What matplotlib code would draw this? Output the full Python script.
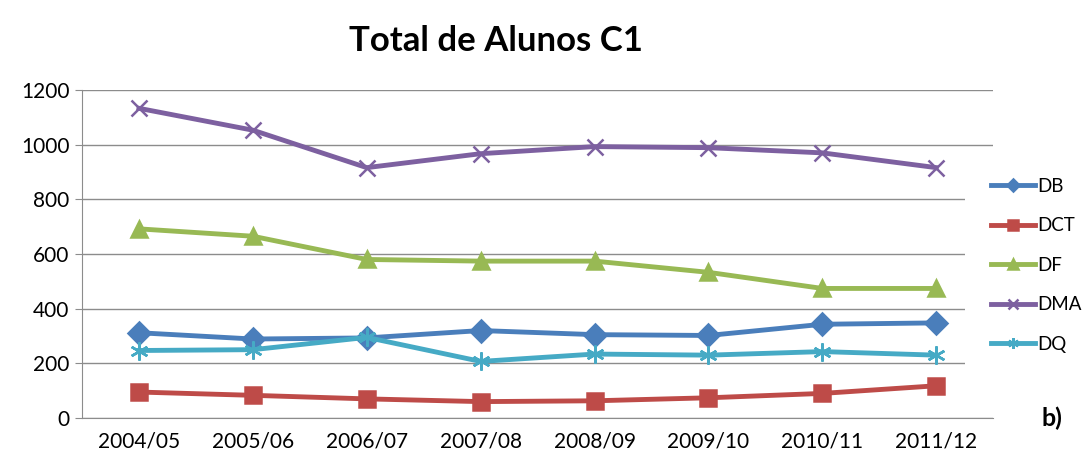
import matplotlib.pyplot as plt

plt.rcParams['font.family'] = ['Lato', 'DejaVu Sans']

years = ["2004/05", "2005/06", "2006/07", "2007/08",
         "2008/09", "2009/10", "2010/11", "2011/12"]

db = [312, 289, 293, 320, 305, 302, 343, 348]
dct = [95, 83, 70, 60, 63, 74, 90, 118]
df = [692, 665, 580, 574, 574, 533, 474, 474]
dma = [1133, 1053, 916, 967, 993, 989, 970, 916]
dq = [247, 250, 295, 207, 234, 230, 243, 230]

series = [("DB", db, "#4a7ebb", "D", 11),
          ("DCT", dct, "#be4b48", "s", 12),
          ("DF", df, "#98b954", "^", 12),
          ("DMA", dma, "#7d60a0", "x", 12),
          ("DQ", dq, "#46aac5", (6, 2, 0), 13)]

fig = plt.figure(figsize=(10.89, 4.62), dpi=100)
ax = fig.add_axes([0.0753, 0.0952, 0.8367, 0.710])

x = range(len(years))
for name, vals, color, mk, ms in series:
    ax.plot(x, vals, color=color, lw=3.5, marker=mk, markersize=ms,
            markeredgewidth=1.8, markeredgecolor=color, label=name)

ax.set_xlim(-0.5, len(years) - 0.5)
ax.set_ylim(0, 1200)
ax.set_yticks(range(0, 1201, 200))
ax.set_xticks(list(x))
ax.set_xticklabels(years)
ax.grid(axis='y', color='#8c8c8c', lw=1)
ax.set_axisbelow(True)
for s in ['top', 'right']:
    ax.spines[s].set_visible(False)
for s in ['left', 'bottom']:
    ax.spines[s].set_color('#8c8c8c')
ax.tick_params(axis='y', labelsize=15, length=5, color='#8c8c8c', pad=4)
ax.tick_params(axis='x', labelsize=15, length=0, pad=10)

fig.suptitle("Total de Alunos C1", x=0.455, y=0.945, fontsize=25,
             fontweight='bold')

leg = fig.legend(loc='upper left', bbox_to_anchor=(0.886, 0.672),
                 frameon=True, fontsize=13.5, handlelength=2.35,
                 handletextpad=0.1, labelspacing=1.2, borderpad=1.4,
                 borderaxespad=0, markerscale=0.6)
leg.get_frame().set_edgecolor('none')
leg.get_frame().set_facecolor('white')
leg.get_frame().set_alpha(1)
leg.set_zorder(5)

fig.text(0.966, 0.095, "b)", fontsize=18, fontweight='bold', ha='center',
         va='center')

fig.savefig("out.png", dpi=100)
